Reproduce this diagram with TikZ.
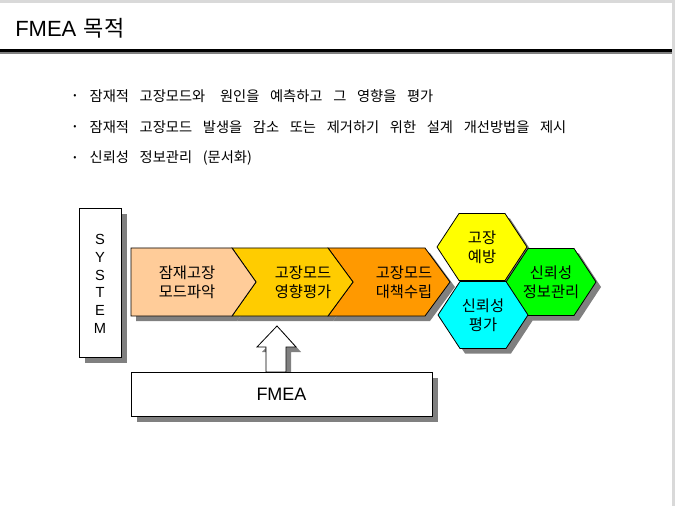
\documentclass[tikz,border=0pt]{standalone}
\usepackage{fontspec}
\setmainfont{Noto Sans CJK KR}
\newfontfamily\latinfont{Liberation Sans}
\usetikzlibrary{positioning}

\definecolor{framegray}{HTML}{D9D9D9}
\definecolor{shadowgray}{HTML}{808080}
\definecolor{peach}{HTML}{FFCC99}
\definecolor{gold}{HTML}{FFCC00}
\definecolor{orange}{HTML}{FF9900}
\definecolor{hexyellow}{HTML}{FFFF00}
\definecolor{hexcyan}{HTML}{00FFFF}
\definecolor{hexgreen}{HTML}{00FF00}

\begin{document}
\begin{tikzpicture}[x=0.75pt, y=-0.75pt,
    outline/.style={draw=black, line width=0.6pt},
    shade/.style={fill=shadowgray, draw=none},
    boxlabel/.style={align=center, font=\fontsize{11.5}{14}\selectfont},
    bulletdot/.style={font=\fontsize{7}{7}\selectfont},
    bullettext/.style={anchor=west, font=\fontsize{10.7}{13}\selectfont,
        execute at begin node={\spaceskip=8pt\relax}}]
        % Slide frame
        \fill[framegray] (0,0) rectangle (675,506);
        \fill[white] (0,3) rectangle (672,506);
        \useasboundingbox (0,0) rectangle (675,506);

        % Title and header rule
        \node[anchor=base west, inner sep=0, font=\fontsize{16.5}{19}\selectfont] (title) at (15,37) {{\latinfont FMEA}\hspace{2pt} 목적};
        \draw[shadowgray, line width=1.5pt] (0,53) -- (672,53);
        \draw[black, line width=2.2pt] (0,50.5) -- (672,50.5);

        % Bullets
        \node[bulletdot] (dot1) at (75,96) {•};
        \node[bulletdot] (dot2) at (75,127) {•};
        \node[bulletdot] (dot3) at (75,158) {•};
        \node[bullettext] (item1) at (85,96) {잠재적 고장모드와\hspace{3pt} 원인을 예측하고 그 영향을 평가};
        \node[bullettext] (item2) at (85,127) {잠재적 고장모드 발생을 감소 또는 제거하기 위한 설계 개선방법을 제시};
        \node[bullettext] (item3) at (85,158) {신뢰성 정보관리 (문서화)};

        % Shadows
        \fill[shade] (85,214) rectangle (127,363);
        \fill[shade] (136,253) -- (237,253) -- (261,287) -- (237,321) -- (136,321) -- cycle;
        \fill[shade] (237,253) -- (333,253) -- (358,287) -- (333,321) -- (237,321) -- (261,287) -- cycle;
        \fill[shade] (333,253) -- (430,253) -- (455,287) -- (430,321) -- (333,321) -- (358,287) -- cycle;
        \fill[shade, shift={(487,252)}] (-45,0) -- (-23,-33.5) -- (23,-33.5) -- (45,0) -- (23,33.5) -- (-23,33.5) -- cycle;
        \fill[shade, shift={(556,287)}] (-45,0) -- (-23,-33.5) -- (23,-33.5) -- (45,0) -- (23,33.5) -- (-23,33.5) -- cycle;
        \fill[shade, shift={(488,320)}] (-45,0) -- (-23,-33.5) -- (23,-33.5) -- (45,0) -- (23,33.5) -- (-23,33.5) -- cycle;
        \fill[shade] (282,331) -- (301,352) -- (291,352) -- (291,377) -- (271,377) -- (271,352) -- (262,352) -- cycle;
        \fill[shade] (137,378) rectangle (438,422);

        % SYSTEM
        \draw[outline, fill=white] (79,208) rectangle (121,357);
        \node[align=center, font=\latinfont\fontsize{11}{13.3}\selectfont] (system) at (100,284) {S\\Y\\S\\T\\E\\M};

        % Process chevrons
        \draw[outline, fill=orange] (328,248) -- (425,248) -- (450,282) -- (425,316) -- (328,316) -- (353,282) -- cycle;
        \draw[outline, fill=gold] (232,248) -- (328,248) -- (353,282) -- (328,316) -- (232,316) -- (256,282) -- cycle;
        \draw[outline, fill=peach] (131,248) -- (232,248) -- (256,282) -- (232,316) -- (131,316) -- cycle;
        \node[boxlabel] (find) at (187,282) {잠재고장\\모드파악};
        \node[boxlabel] (effect) at (303,282) {고장모드\\영향평가};
        \node[boxlabel] (action) at (404,282) {고장모드\\대책수립};

        % Hexagons
        \draw[outline, fill=hexyellow, shift={(482,247)}] (-45,0) -- (-23,-33.5) -- (23,-33.5) -- (45,0) -- (23,33.5) -- (-23,33.5) -- cycle;
        \draw[outline, fill=hexgreen, shift={(551,282)}] (-45,0) -- (-23,-33.5) -- (23,-33.5) -- (45,0) -- (23,33.5) -- (-23,33.5) -- cycle;
        \draw[outline, fill=hexcyan, shift={(483,315)}] (-45,0) -- (-23,-33.5) -- (23,-33.5) -- (45,0) -- (23,33.5) -- (-23,33.5) -- cycle;
        \node[boxlabel] (prevent) at (482,247) {고장\\예방};
        \node[boxlabel] (info) at (551,282) {신뢰성\\정보관리};
        \node[boxlabel] (assess) at (483,315) {신뢰성\\평가};

        % FMEA input arrow and box
        \draw[outline, fill=white] (277,326) -- (296,347) -- (286,347) -- (286,372) -- (266,372) -- (266,347) -- (257,347) -- cycle;
        \draw[outline, fill=white] (131,372) rectangle (432,416);
        \node[font=\latinfont\fontsize{13.5}{16}\selectfont] (fmea) at (281.5,394) {FMEA};
    \end{tikzpicture}
\end{document}
